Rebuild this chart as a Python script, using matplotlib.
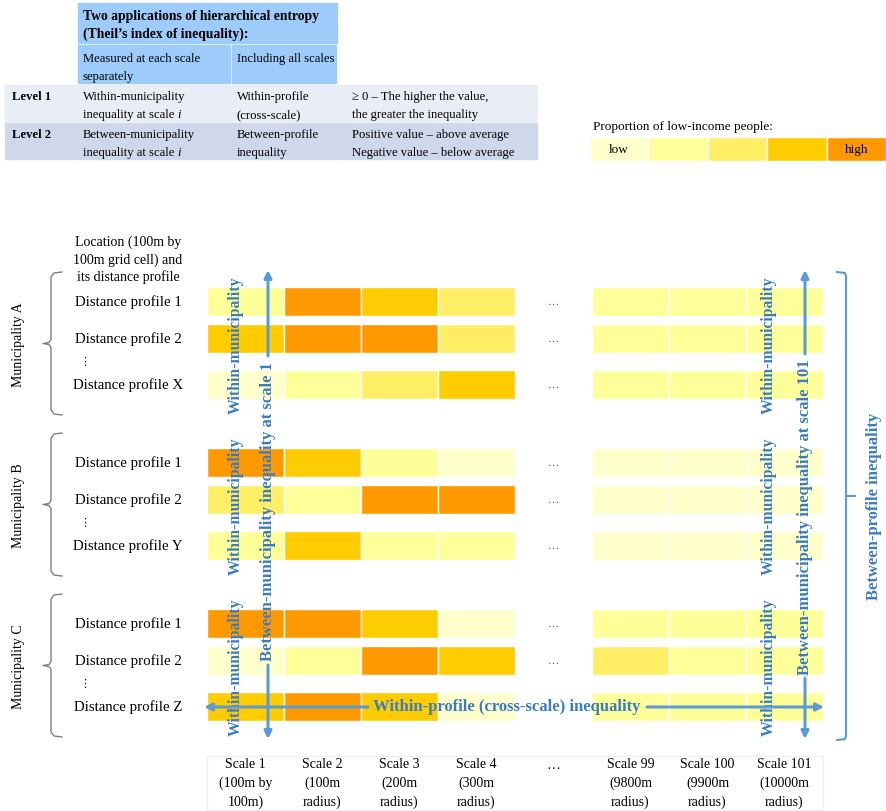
import matplotlib
matplotlib.use('Agg')
from matplotlib import pyplot as plt
from matplotlib.patches import Rectangle

plt.rcParams['font.family'] = ['Liberation Serif', 'DejaVu Sans']

# colour classes of the proportion of low-income people (low -> high)
palette = ['#FFFFCC', '#FFFF99', '#FFEE66', '#FFCC00', '#FF9900']
legend_labels = ['low', '', '', '', 'high']

municipalities = ['Municipality A', 'Municipality B', 'Municipality C']
profile_labels = [['Distance profile 1', 'Distance profile 2', 'Distance profile X'],
                  ['Distance profile 1', 'Distance profile 2', 'Distance profile Y'],
                  ['Distance profile 1', 'Distance profile 2', 'Distance profile Z']]

scale_labels = ['Scale 1\n(100m by\n100m)', 'Scale 2\n(100m\nradius)', 'Scale 3\n(200m\nradius)',
                'Scale 4\n(300m\nradius)', 'Scale 99\n(9800m\nradius)', 'Scale 100\n(9900m\nradius)',
                'Scale 101\n(10000m\nradius)']

# class index per profile and scale (scales 1-4, 99-101)
levels_A = [[1, 4, 3, 2, 1, 1, 1],
            [3, 4, 4, 2, 1, 1, 1],
            [0, 1, 2, 3, 1, 1, 1]]
levels_B = [[4, 3, 1, 0, 0, 0, 0],
            [2, 1, 4, 4, 0, 0, 0],
            [1, 3, 1, 1, 0, 0, 0]]
levels_C = [[4, 4, 3, 0, 1, 1, 1],
            [0, 1, 4, 3, 2, 1, 1],
            [3, 4, 3, 0, 1, 1, 1]]
levels = [levels_A, levels_B, levels_C]

table_head = ['Two applications of hierarchical entropy', '(Theil\u2019s index of inequality):']
table_cols = [['Measured at each scale', 'separately'], ['Including all scales']]
# a trailing '*i' on a line means an italic "i" follows
table_rows = [[['Level 1'], ['Within-municipality', 'inequality at scale *i'],
               ['Within-profile', '(cross-scale)'],
               ['\u2265 0 \u2013 The higher the value,', 'the greater the inequality']],
              [['Level 2'], ['Between-municipality', 'inequality at scale *i'],
               ['Between-profile', 'inequality'],
               ['Positive value \u2013 above average', 'Negative value \u2013 below average']]]

# layout (pixel units)
W, H = 886, 812
X0, CW = 207, 77
slots = [0, 1, 2, 3, 5, 6, 7]
DOT_SLOT = 4
Y0, GDY, RH = 288, 161, 29
ROW_OFF = [0, 37, 83]
BLUE = '#5B9BD5'
BLUE_T = '#3A7CC2'
FS = 10
TFS = 9.1
LH = 18

fig = plt.figure(figsize=(W / 100, H / 100), dpi=100)
ax = fig.add_axes([0, 0, 1, 1])
ax.set_xlim(0, W)
ax.set_ylim(H, 0)
ax.axis('off')


def cell_lines(x, y, lines, **kw):
    for n, line in enumerate(lines):
        italic_i = line.endswith('*i')
        t = ax.text(x, y + n * LH, line[:-2] if italic_i else line, va='baseline', **kw)
        if italic_i:
            ax.annotate('i', xy=(1, 0), xycoords=t, va='bottom', ha='left', style='italic',
                        fontsize=kw.get('fontsize', TFS))


# ---- table ----
head_bg = '#9DCBFA'
row_bg = ['#E9EDF5', '#CFD8EA']
col_edges = [4, 77, 231, 337, 537]
ax.add_patch(Rectangle((col_edges[1] + 1, 4), col_edges[3] - col_edges[1] - 1, 40, color=head_bg))
cell_lines(col_edges[1] + 6, 20, table_head, fontsize=9.8, fontweight='bold')
for j, lines in enumerate(table_cols):
    x0, x1 = col_edges[j + 1] + 1, col_edges[j + 2]
    ax.add_patch(Rectangle((x0, 46), x1 - x0 - 1, 38, color=head_bg))
    cell_lines(x0 + 5, 62, lines, fontsize=TFS)
row_top = [86, 124]
for i, row in enumerate(table_rows):
    for j, lines in enumerate(row):
        x0, x1 = col_edges[j], col_edges[j + 1]
        ax.add_patch(Rectangle((x0 + 1, row_top[i]), x1 - x0 - 1, 36, color=row_bg[i]))
        cell_lines(x0 + (8 if j == 0 else (15 if j == 3 else 6)), row_top[i] + 14, lines,
                   fontsize=TFS, fontweight='bold' if j == 0 else 'normal')

# ---- legend ----
ax.text(593, 127, 'Proportion of low-income people:', fontsize=9.5, va='center')
for k, c in enumerate(palette):
    ax.bar(589 + 59.5 * k + 29.75, 24, width=59.5, bottom=138, color=c, edgecolor='white', linewidth=1)
    if legend_labels[k]:
        ax.text(589 + 59.5 * k + 29.75, 150, legend_labels[k], fontsize=9.5, ha='center', va='center')

ax.text(128, 260, 'Location (100m by\n100m grid cell) and\nits distance profile', fontsize=FS,
        ha='center', va='center', linespacing=1.35)

# ---- grid of cells ----
for g, mun in enumerate(municipalities):
    gy = Y0 + g * GDY
    for r, row in enumerate(levels[g]):
        top = gy + ROW_OFF[r]
        xs = [X0 + s * CW + CW / 2 for s in slots]
        ax.bar(xs, RH, width=CW, bottom=top, color=[palette[v] for v in row],
               edgecolor='white', linewidth=1)
        ax.text(128, top + RH / 2, profile_labels[g][r], fontsize=10.7, ha='center', va='center')
        if not (g == 2 and r == 2):
            ax.text(X0 + DOT_SLOT * CW + CW / 2, top + RH / 2, '\u2026', fontsize=8,
                    ha='center', va='center', color='#444444')
    ax.text(85, gy + 74, '\u22ee', fontsize=8, ha='center', va='center', family=['DejaVu Sans'])
    # left brace
    b0, b1 = gy - 15, gy + 128
    bm = (b0 + b1) / 2
    bx = [62, 54, 51, 51, 49, 43, 49, 51, 51, 54, 62]
    by = [b0, b0 + 1, b0 + 5, bm - 4, bm - 1, bm, bm + 1, bm + 4, b1 - 5, b1 - 1, b1]
    ax.plot(bx, by, color='#808080', lw=1)
    ax.text(19, bm, mun, fontsize=FS, rotation=90, ha='center', va='center')
    # within-municipality labels
    for xw in (236, 769):
        ax.text(xw, bm + 1, 'Within-municipality', fontsize=11.3, fontweight='bold', color=BLUE_T,
                rotation=90, ha='center', va='center')

# ---- between-municipality arrows ----
arr = dict(arrowstyle='-|>', color=BLUE, lw=2.2, mutation_scale=11, shrinkA=0, shrinkB=0)
for xa, txt, t0, t1 in ((268, 'Between-municipality inequality at scale 1', 357, 666),
                       (805, 'Between-municipality inequality at scale 101', 355, 679)):
    ax.annotate('', xy=(xa, 271), xytext=(xa, t0), arrowprops=arr)
    ax.annotate('', xy=(xa, 740), xytext=(xa, t1), arrowprops=arr)
    ax.text(xa, (t0 + t1) / 2, txt, fontsize=12, fontweight='bold', color=BLUE_T,
            rotation=90, ha='center', va='center')

# ---- within-profile arrow ----
ax.annotate('', xy=(204, 708), xytext=(368, 708), arrowprops=arr)
ax.annotate('', xy=(824, 708), xytext=(647, 708), arrowprops=arr)
ax.text(507, 707, 'Within-profile (cross-scale) inequality', fontsize=12, fontweight='bold',
        color=BLUE_T, ha='center', va='center')

# ---- right bracket ----
ax.plot([837, 845, 846, 846, 855], [273, 274, 277, 497, 497], color=BLUE, lw=1.5)
ax.plot([846, 846, 845, 837], [497, 737, 740, 741], color=BLUE, lw=1.5)
ax.text(874, 506, 'Between-profile inequality', fontsize=12, fontweight='bold', color=BLUE_T,
        rotation=90, ha='center', va='center')

# ---- scale labels ----
ax.add_patch(Rectangle((X0, 757), 8 * CW, 54, fill=False, edgecolor='#F0F0F0', lw=1))
for s, lab in zip(slots, scale_labels):
    ax.text(X0 + s * CW + CW / 2, 758, lab, fontsize=FS, ha='center', va='top', linespacing=1.55)
ax.text(X0 + DOT_SLOT * CW + CW / 2, 766, '\u2026', fontsize=FS, ha='center', va='center')

fig.savefig('out.png', dpi=100)
